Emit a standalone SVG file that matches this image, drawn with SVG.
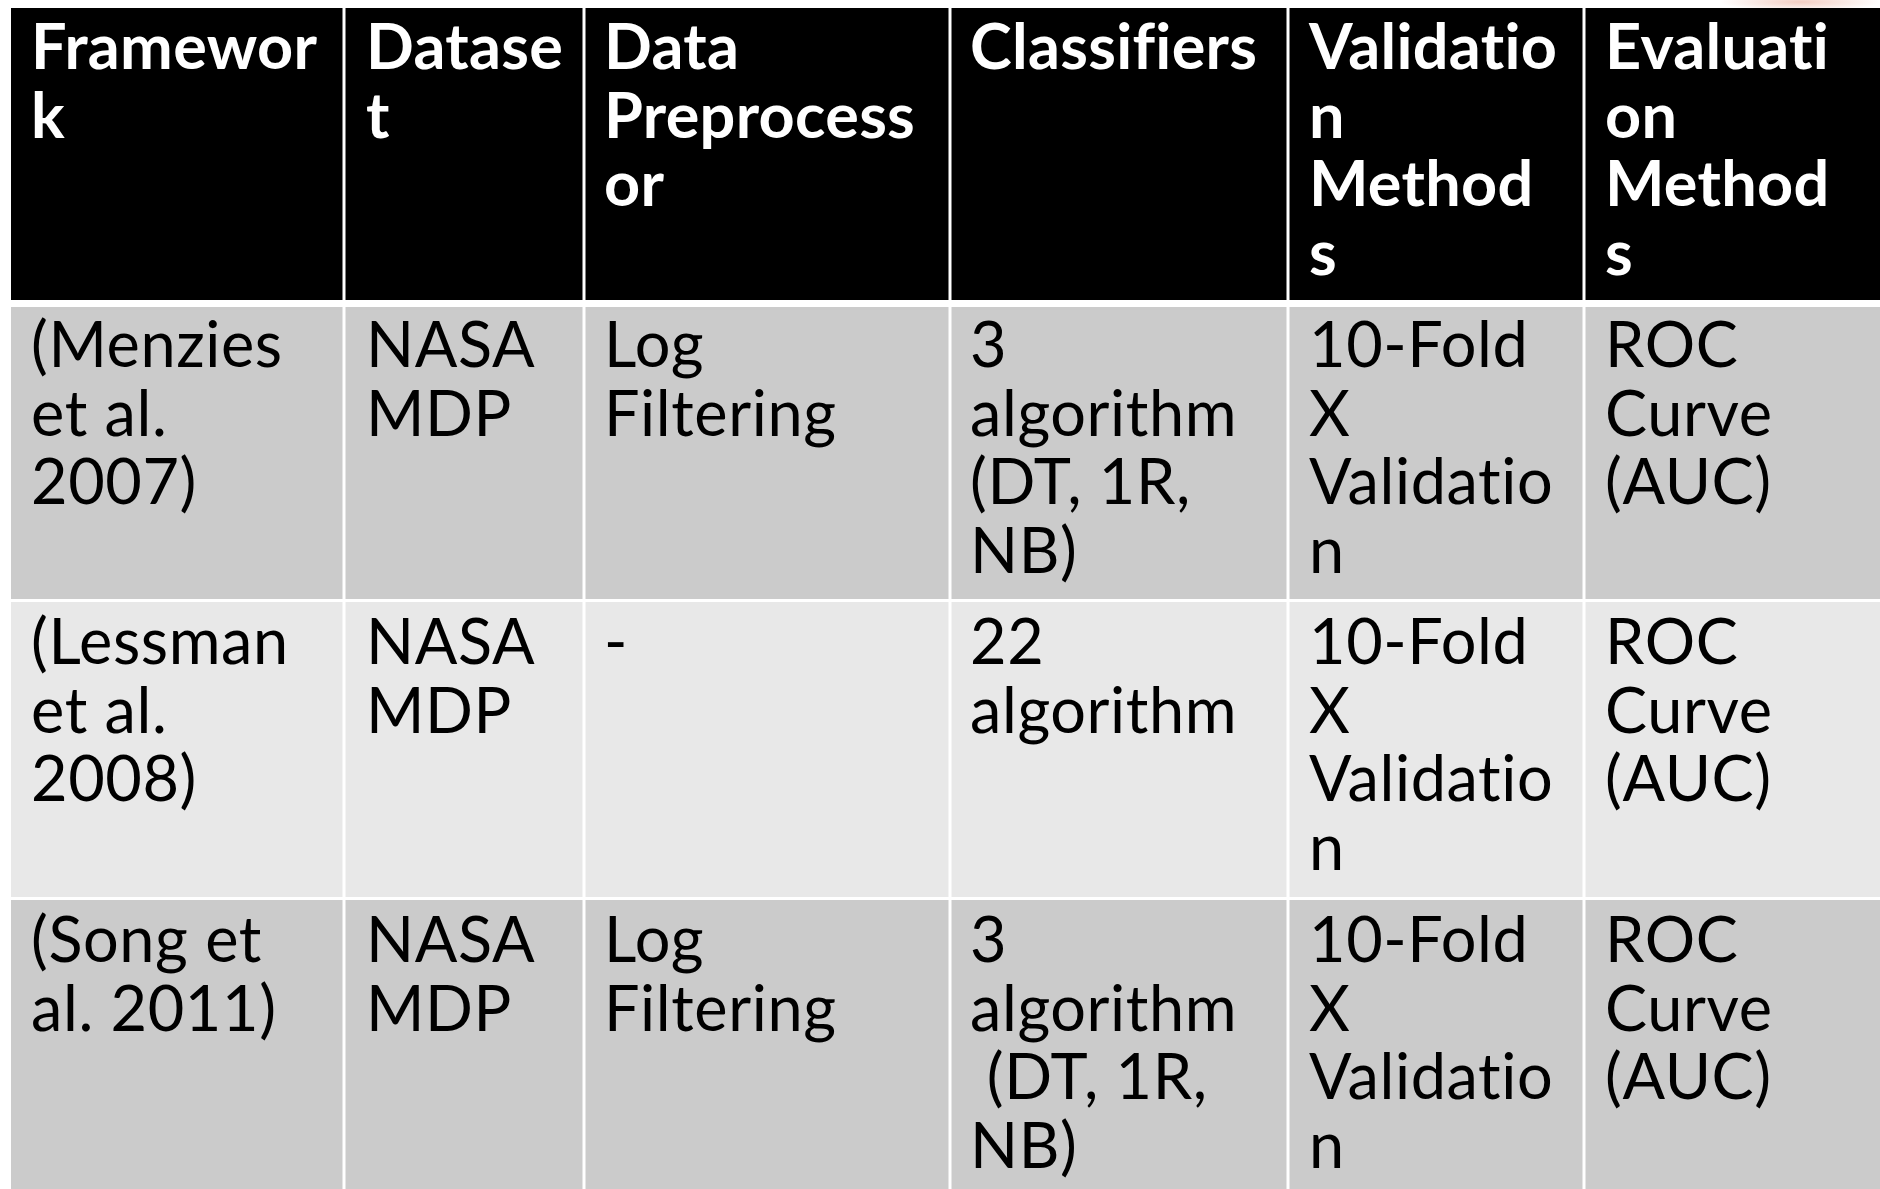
<svg xmlns="http://www.w3.org/2000/svg" width="1880" height="1189" viewBox="0 0 1880 1189">
  <defs>
    <radialGradient id="glow" cx="0.5" cy="0.5" r="0.5">
      <stop offset="0" stop-color="#f3c9bd" stop-opacity="0.9"/>
      <stop offset="1" stop-color="#f3c9bd" stop-opacity="0"/>
    </radialGradient>
  </defs>
  <style>
    .hd { fill: #000000; }
    .odd { fill: #cbcbcb; }
    .even { fill: #e8e8e8; }
    .grid { stroke: #ffffff; stroke-width: 3; }
    text { font-family: Lato, "Open Sans", "Liberation Sans", sans-serif; font-size: 63px; letter-spacing: 0.6px; }
    .th { fill: #ffffff; font-weight: bold; letter-spacing: 0.3px; }
    .td { fill: #000000; }
  </style>

  <rect width="1880" height="1189" fill="#ffffff"/>
  <!-- soft tint above the right end of the header -->
  <ellipse cx="1800" cy="2" rx="80" ry="9" fill="url(#glow)"/>

  <!-- row bands -->
  <g id="bands">
    <rect class="hd" x="11" y="8" width="1869" height="292"/>
    <rect class="odd" x="11" y="307" width="1869" height="292"/>
    <rect class="even" x="11" y="602" width="1869" height="295"/>
    <rect class="odd" x="11" y="900" width="1869" height="289"/>
  </g>

  <!-- cell borders -->
  <g id="gridlines" class="grid">
    <line x1="344" y1="8" x2="344" y2="1189"/>
    <line x1="584" y1="8" x2="584" y2="1189"/>
    <line x1="950" y1="8" x2="950" y2="1189"/>
    <line x1="1288" y1="8" x2="1288" y2="1189"/>
    <line x1="1584" y1="8" x2="1584" y2="1189"/>
    <line x1="11" y1="303.5" x2="1880" y2="303.5" stroke-width="7"/>
    <line x1="11" y1="600.5" x2="1880" y2="600.5"/>
    <line x1="11" y1="898.5" x2="1880" y2="898.5"/>
  </g>

  <!-- header row -->
  <g id="header">
    <g id="h-framework"><text class="th" x="31" y="69"><tspan x="31">Framewor</tspan><tspan x="31" dy="68.5">k</tspan></text></g>
    <g id="h-dataset"><text class="th" x="366" y="69"><tspan x="366">Datase</tspan><tspan x="366" dy="68.5">t</tspan></text></g>
    <g id="h-preprocessor"><text class="th" x="604" y="69"><tspan x="604">Data</tspan><tspan x="604" dy="68.5">Preprocess</tspan><tspan x="604" dy="68.5">or</tspan></text></g>
    <g id="h-classifiers"><text class="th" x="970" y="69"><tspan x="970">Classifiers</tspan></text></g>
    <g id="h-validation"><text class="th" x="1309" y="69"><tspan x="1309">Validatio</tspan><tspan x="1309" dy="68.5">n</tspan><tspan x="1309" dy="68.5">Method</tspan><tspan x="1309" dy="68.5">s</tspan></text></g>
    <g id="h-evaluation"><text class="th" x="1605" y="69"><tspan x="1605">Evaluati</tspan><tspan x="1605" dy="68.5">on</tspan><tspan x="1605" dy="68.5">Method</tspan><tspan x="1605" dy="68.5">s</tspan></text></g>
  </g>

  <!-- Menzies et al. 2007 -->
  <g id="row-menzies">
    <g id="r1-framework"><text class="td" x="31" y="367"><tspan x="31">(Menzies</tspan><tspan x="31" dy="68.5">et al.</tspan><tspan x="31" dy="68.5">2007)</tspan></text></g>
    <g id="r1-dataset"><text class="td" x="366" y="367"><tspan x="366">NASA</tspan><tspan x="366" dy="68.5">MDP</tspan></text></g>
    <g id="r1-preprocessor"><text class="td" x="604" y="367"><tspan x="604">Log</tspan><tspan x="604" dy="68.5">Filtering</tspan></text></g>
    <g id="r1-classifiers"><text class="td" x="970" y="367"><tspan x="970">3</tspan><tspan x="970" dy="68.5">algorithm</tspan><tspan x="970" dy="68.5">(DT, 1R,</tspan><tspan x="970" dy="68.5">NB)</tspan></text></g>
    <g id="r1-validation"><text class="td" x="1309" y="367"><tspan x="1309">10-Fold</tspan><tspan x="1309" dy="68.5">X</tspan><tspan x="1309" dy="68.5">Validatio</tspan><tspan x="1309" dy="68.5">n</tspan></text></g>
    <g id="r1-evaluation"><text class="td" x="1605" y="367"><tspan x="1605">ROC</tspan><tspan x="1605" dy="68.5">Curve</tspan><tspan x="1605" dy="68.5">(AUC)</tspan></text></g>
  </g>

  <!-- Lessman et al. 2008 -->
  <g id="row-lessman">
    <g id="r2-framework"><text class="td" x="31" y="664"><tspan x="31">(Lessman</tspan><tspan x="31" dy="68.5">et al.</tspan><tspan x="31" dy="68.5">2008)</tspan></text></g>
    <g id="r2-dataset"><text class="td" x="366" y="664"><tspan x="366">NASA</tspan><tspan x="366" dy="68.5">MDP</tspan></text></g>
    <g id="r2-preprocessor"><text class="td" x="604" y="664"><tspan x="604">-</tspan></text></g>
    <g id="r2-classifiers"><text class="td" x="970" y="664"><tspan x="970">22</tspan><tspan x="970" dy="68.5">algorithm</tspan></text></g>
    <g id="r2-validation"><text class="td" x="1309" y="664"><tspan x="1309">10-Fold</tspan><tspan x="1309" dy="68.5">X</tspan><tspan x="1309" dy="68.5">Validatio</tspan><tspan x="1309" dy="68.5">n</tspan></text></g>
    <g id="r2-evaluation"><text class="td" x="1605" y="664"><tspan x="1605">ROC</tspan><tspan x="1605" dy="68.5">Curve</tspan><tspan x="1605" dy="68.5">(AUC)</tspan></text></g>
  </g>

  <!-- Song et al. 2011 -->
  <g id="row-song">
    <g id="r3-framework"><text class="td" x="31" y="962"><tspan x="31">(Song et</tspan><tspan x="31" dy="68.5">al. 2011)</tspan></text></g>
    <g id="r3-dataset"><text class="td" x="366" y="962"><tspan x="366">NASA</tspan><tspan x="366" dy="68.5">MDP</tspan></text></g>
    <g id="r3-preprocessor"><text class="td" x="604" y="962"><tspan x="604">Log</tspan><tspan x="604" dy="68.5">Filtering</tspan></text></g>
    <g id="r3-classifiers"><text class="td" x="970" y="962" xml:space="preserve"><tspan x="970">3</tspan><tspan x="970" dy="68.5">algorithm</tspan><tspan x="970" dy="68.5"> (DT, 1R,</tspan><tspan x="970" dy="68.5">NB)</tspan></text></g>
    <g id="r3-validation"><text class="td" x="1309" y="962"><tspan x="1309">10-Fold</tspan><tspan x="1309" dy="68.5">X</tspan><tspan x="1309" dy="68.5">Validatio</tspan><tspan x="1309" dy="68.5">n</tspan></text></g>
    <g id="r3-evaluation"><text class="td" x="1605" y="962"><tspan x="1605">ROC</tspan><tspan x="1605" dy="68.5">Curve</tspan><tspan x="1605" dy="68.5">(AUC)</tspan></text></g>
  </g>
</svg>
